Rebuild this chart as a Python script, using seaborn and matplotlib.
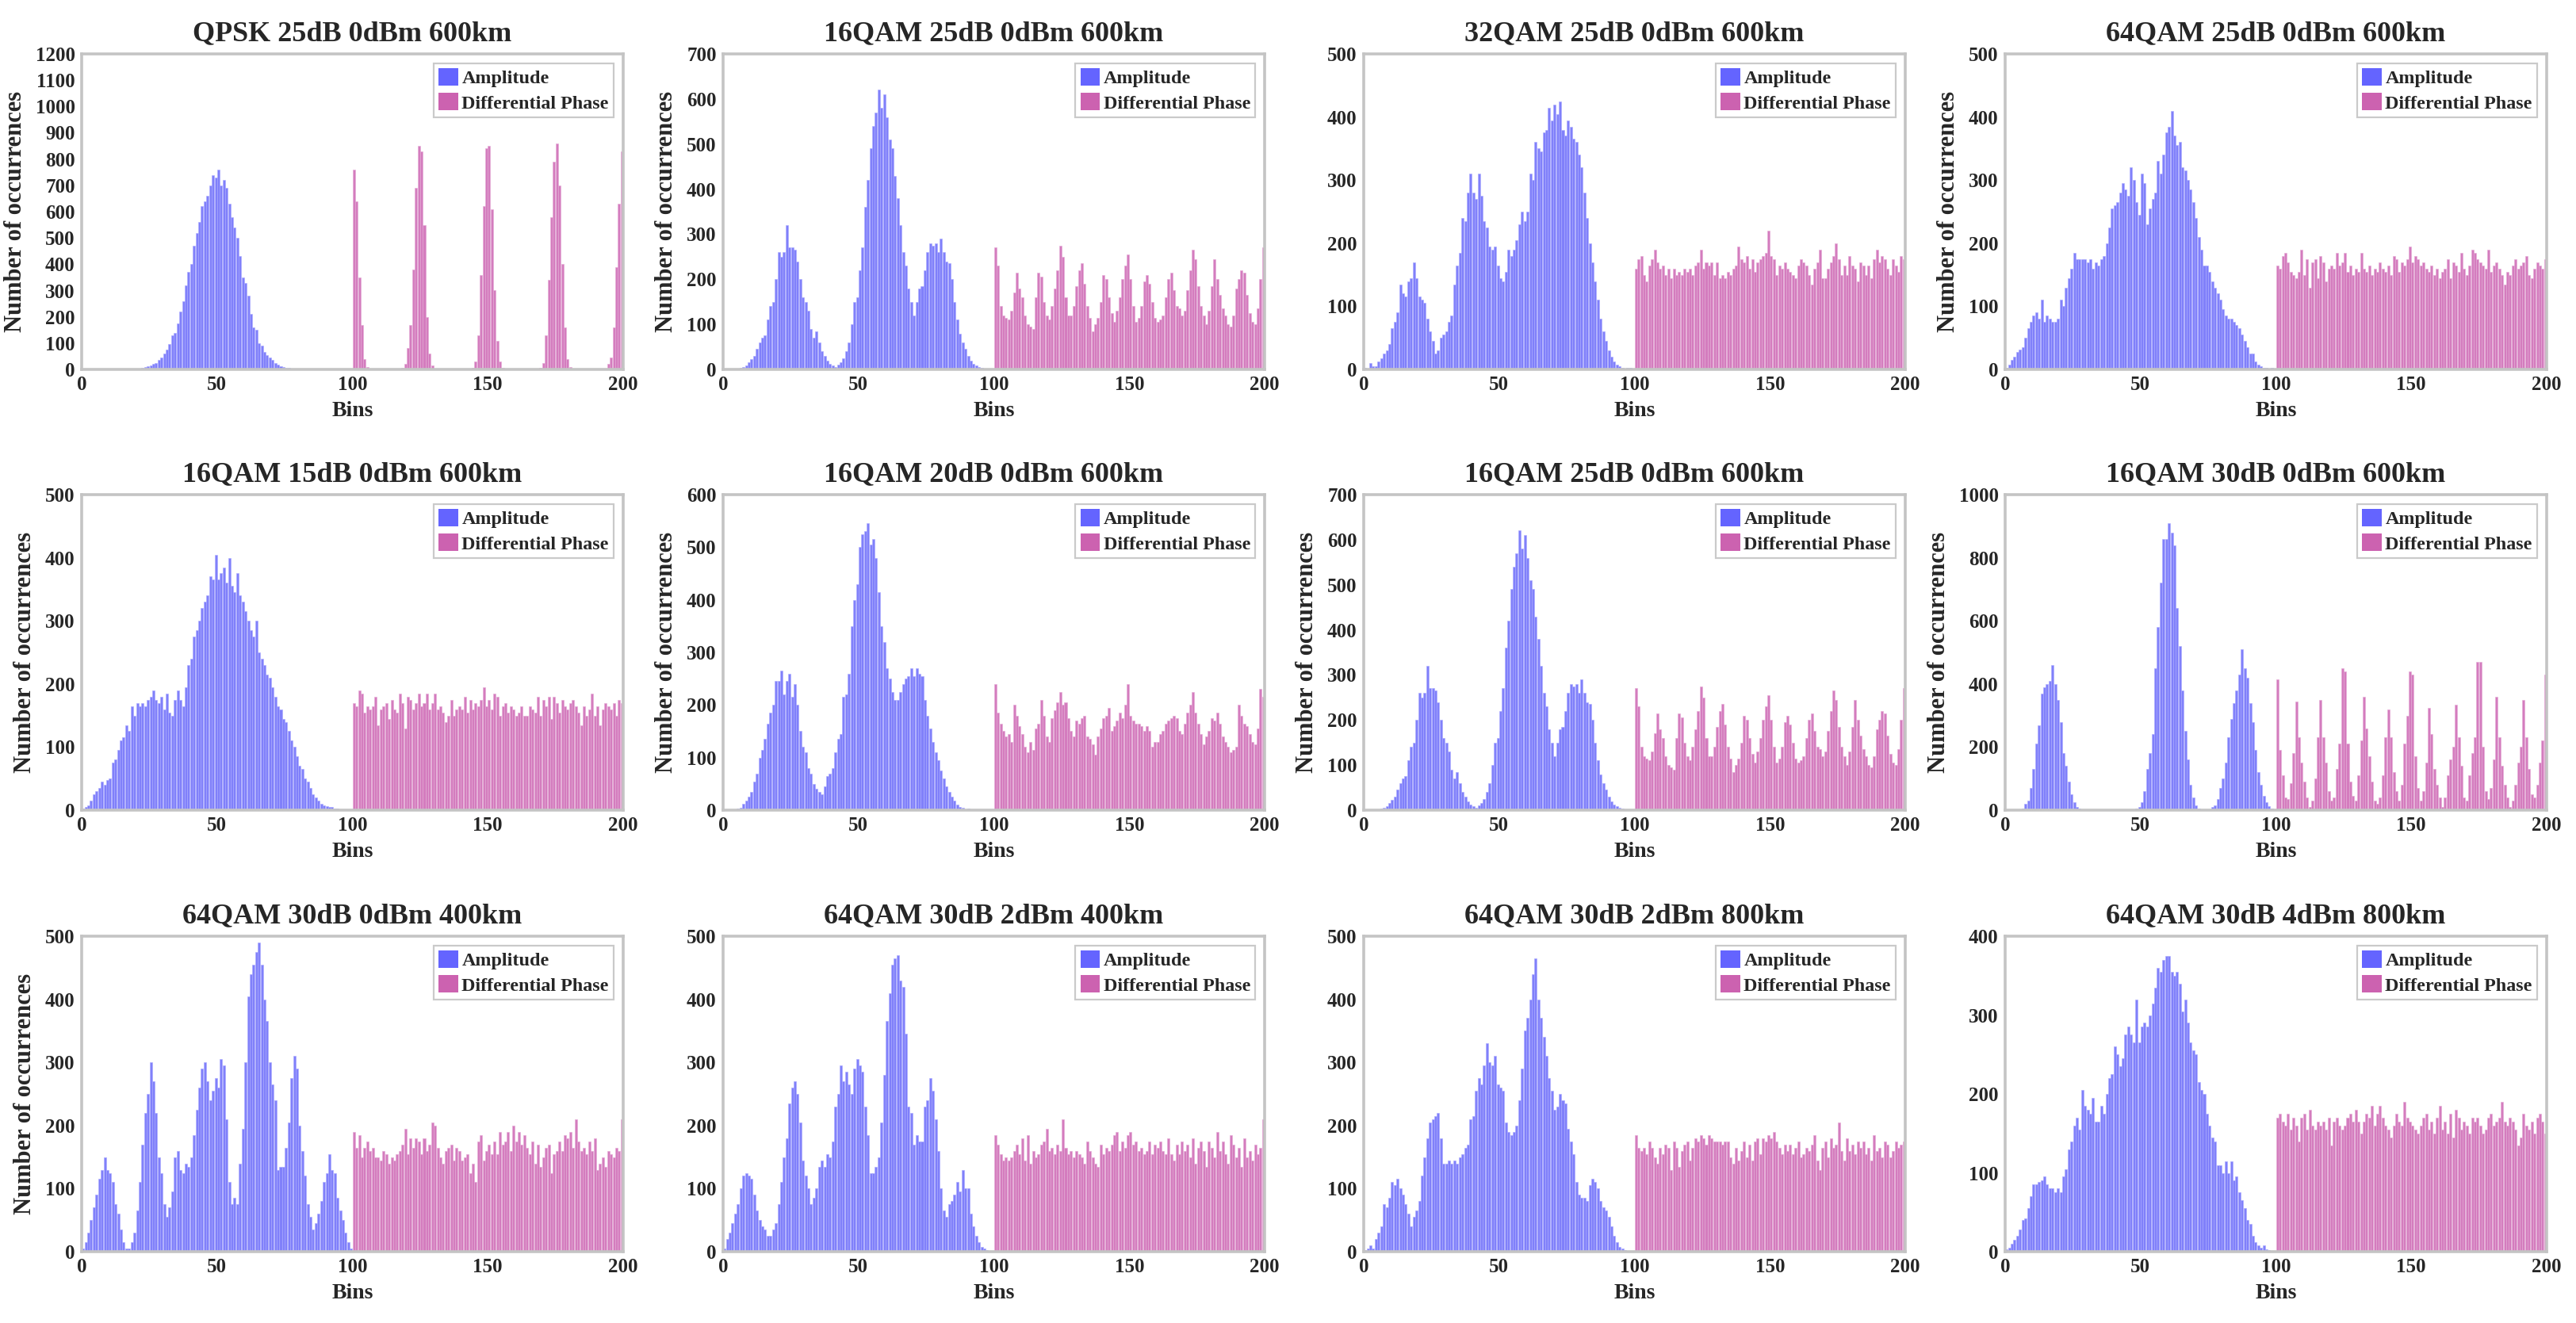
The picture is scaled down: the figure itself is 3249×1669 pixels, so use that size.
import matplotlib
matplotlib.use("Agg")
import matplotlib.pyplot as plt
from matplotlib.patches import Patch
import numpy as np
import seaborn as sns

# ---------------------------------------------------------------------------
# Histogram counts: 100 amplitude bins + 100 differential
# phase bins per panel (bins 1-100 amplitude, 101-200 phase)
# ---------------------------------------------------------------------------

amp_qpsk_25 = [
    0, 0, 0, 0, 0, 0, 0, 0, 0, 0,
    0, 0, 0, 0, 0, 0, 0, 0, 0, 0,
    0, 0, 5, 10, 12, 15, 20, 25, 35, 45,
    60, 75, 95, 130, 140, 175, 220, 260, 320, 370,
    400, 470, 520, 560, 620, 640, 660, 700, 740, 730,
    760, 700, 720, 690, 630, 580, 540, 500, 430, 350,
    330, 280, 210, 160, 150, 100, 90, 65, 55, 45,
    35, 25, 18, 12, 10, 7, 5, 3, 2, 1,
    0, 0, 0, 2, 0, 0, 0, 0, 0, 0,
    0, 0, 2, 0, 0, 0, 0, 0, 0, 0]
ph_qpsk_25 = [
    760, 640, 350, 170, 40, 10, 2, 0, 0, 0,
    0, 0, 0, 0, 0, 0, 0, 0, 5, 20,
    80, 170, 380, 690, 850, 830, 550, 200, 60, 15,
    3, 0, 0, 0, 0, 0, 0, 0, 0, 0,
    0, 0, 0, 0, 5, 30, 130, 360, 620, 840,
    850, 610, 300, 110, 30, 5, 0, 0, 0, 0,
    0, 0, 0, 0, 0, 0, 0, 0, 0, 5,
    25, 130, 340, 580, 790, 860, 700, 400, 160, 40,
    10, 0, 0, 0, 0, 0, 0, 0, 0, 0,
    0, 0, 0, 0, 20, 45, 160, 390, 630, 830]

amp_16qam_25 = [
    0, 0, 0, 0, 0, 2, 3, 5, 8, 15,
    22, 30, 45, 60, 70, 75, 110, 140, 150, 200,
    260, 250, 260, 320, 270, 270, 265, 240, 200, 160,
    150, 130, 90, 70, 85, 60, 40, 30, 20, 12,
    8, 5, 10, 15, 25, 40, 60, 100, 150, 160,
    220, 270, 360, 420, 490, 540, 570, 620, 580, 610,
    560, 510, 490, 430, 380, 320, 260, 230, 180, 150,
    120, 150, 180, 185, 220, 260, 280, 275, 280, 260,
    290, 260, 240, 235, 200, 150, 110, 80, 60, 45,
    30, 20, 12, 8, 5, 3, 2, 1, 0, 0]
ph_16qam_25 = [
    270, 230, 140, 120, 115, 110, 130, 170, 215, 180,
    160, 120, 100, 95, 90, 160, 215, 205, 150, 120,
    110, 140, 180, 220, 275, 250, 160, 120, 120, 140,
    185, 220, 235, 190, 140, 115, 85, 100, 115, 150,
    210, 200, 160, 125, 105, 130, 160, 200, 230, 255,
    200, 140, 105, 115, 140, 195, 210, 190, 150, 115,
    105, 110, 120, 160, 200, 215, 175, 140, 135, 120,
    130, 175, 220, 265, 245, 185, 140, 120, 100, 130,
    185, 245, 200, 165, 135, 120, 100, 95, 120, 180,
    200, 220, 215, 165, 125, 105, 100, 135, 200, 270]

amp_32qam_25 = [
    3, 0, 10, 5, 5, 12, 18, 25, 30, 40,
    65, 75, 90, 135, 120, 115, 140, 145, 170, 145,
    115, 110, 105, 80, 60, 45, 25, 30, 50, 55,
    60, 75, 85, 135, 165, 185, 240, 235, 280, 310,
    280, 270, 310, 275, 235, 225, 195, 190, 195, 165,
    145, 140, 155, 190, 180, 190, 205, 230, 250, 235,
    250, 310, 300, 360, 350, 345, 375, 380, 415, 395,
    420, 405, 425, 380, 370, 395, 385, 365, 360, 340,
    320, 280, 240, 200, 170, 140, 110, 80, 60, 45,
    30, 20, 12, 8, 5, 2, 0, 3, 3, 0]
ph_32qam_25 = [
    160, 175, 180, 150, 140, 165, 175, 190, 170, 160,
    165, 150, 160, 145, 160, 150, 155, 150, 160, 155,
    160, 150, 165, 170, 190, 160, 170, 165, 170, 150,
    170, 145, 150, 145, 155, 150, 160, 165, 195, 175,
    170, 180, 160, 175, 155, 170, 175, 180, 185, 220,
    180, 175, 150, 165, 160, 170, 160, 155, 150, 145,
    165, 175, 170, 165, 150, 135, 160, 170, 190, 145,
    145, 160, 170, 180, 200, 175, 150, 165, 150, 180,
    165, 160, 140, 170, 165, 150, 165, 145, 175, 190,
    170, 180, 175, 160, 150, 175, 165, 155, 180, 175]

amp_64qam_25 = [
    3, 8, 15, 20, 28, 32, 35, 50, 65, 75,
    85, 90, 80, 110, 75, 85, 80, 75, 75, 80,
    110, 100, 130, 145, 160, 185, 175, 175, 175, 175,
    170, 175, 160, 170, 165, 175, 180, 200, 225, 255,
    260, 265, 280, 295, 285, 275, 320, 300, 265, 245,
    310, 295, 230, 255, 270, 280, 330, 310, 340, 375,
    385, 410, 370, 355, 360, 320, 315, 300, 285, 265,
    240, 210, 190, 165, 165, 155, 140, 130, 120, 110,
    95, 85, 80, 80, 75, 70, 65, 55, 45, 35,
    25, 25, 12, 8, 5, 3, 2, 0, 2, 0]
ph_64qam_25 = [
    165, 160, 180, 185, 170, 155, 150, 145, 155, 190,
    150, 175, 130, 170, 175, 145, 180, 170, 140, 160,
    165, 160, 185, 165, 170, 185, 155, 165, 150, 160,
    155, 185, 160, 155, 165, 150, 160, 155, 170, 160,
    155, 165, 150, 180, 175, 155, 170, 165, 175, 195,
    170, 180, 175, 165, 170, 160, 155, 165, 150, 160,
    145, 155, 160, 175, 145, 170, 165, 155, 185, 160,
    150, 165, 190, 185, 175, 170, 165, 160, 190, 155,
    165, 170, 160, 150, 135, 155, 150, 165, 175, 160,
    165, 170, 180, 150, 145, 160, 170, 165, 160, 175]

amp_16qam_15 = [
    3, 5, 8, 15, 25, 30, 35, 45, 40, 48,
    50, 75, 80, 95, 110, 115, 135, 125, 165, 150,
    170, 165, 170, 165, 175, 180, 190, 175, 170, 180,
    160, 185, 155, 150, 175, 190, 175, 165, 195, 230,
    240, 275, 285, 300, 320, 330, 340, 370, 365, 405,
    365, 375, 385, 360, 400, 355, 345, 375, 340, 330,
    315, 300, 285, 275, 300, 250, 240, 230, 215, 210,
    195, 180, 165, 160, 145, 140, 125, 110, 100, 85,
    70, 65, 50, 45, 35, 25, 20, 15, 10, 8,
    6, 5, 5, 3, 2, 1, 0, 0, 0, 0]
ph_16qam_15 = [
    170, 165, 190, 185, 155, 165, 160, 165, 180, 135,
    160, 165, 170, 145, 175, 160, 155, 185, 170, 130,
    180, 175, 160, 170, 185, 165, 170, 185, 160, 170,
    185, 160, 165, 155, 140, 150, 175, 150, 160, 165,
    160, 180, 155, 175, 160, 170, 165, 175, 195, 165,
    175, 160, 185, 180, 150, 165, 170, 155, 165, 160,
    150, 155, 165, 150, 150, 165, 160, 155, 180, 150,
    175, 165, 180, 145, 180, 170, 155, 175, 165, 160,
    170, 175, 165, 155, 135, 165, 150, 160, 185, 150,
    165, 135, 160, 170, 165, 160, 170, 150, 175, 170]

amp_16qam_20 = [
    0, 0, 0, 0, 0, 3, 5, 12, 18, 25,
    35, 55, 70, 100, 115, 135, 165, 185, 200, 245,
    245, 265, 220, 245, 260, 215, 240, 200, 150, 120,
    110, 80, 70, 50, 40, 35, 30, 45, 65, 70,
    80, 110, 135, 145, 215, 220, 260, 350, 400, 430,
    500, 525, 530, 545, 505, 515, 480, 415, 350, 320,
    270, 250, 225, 210, 210, 225, 240, 250, 255, 270,
    255, 270, 260, 255, 210, 180, 155, 130, 110, 95,
    75, 60, 45, 35, 25, 18, 10, 6, 4, 2,
    3, 0, 0, 0, 0, 0, 0, 0, 0, 0]
ph_16qam_20 = [
    240, 185, 165, 150, 140, 145, 130, 200, 180, 160,
    145, 120, 110, 130, 115, 155, 165, 210, 180, 140,
    130, 175, 190, 205, 225, 200, 205, 175, 150, 140,
    170, 165, 175, 180, 140, 135, 125, 105, 140, 155,
    175, 180, 195, 150, 160, 170, 185, 175, 200, 240,
    180, 170, 165, 165, 160, 150, 160, 150, 120, 130,
    130, 145, 150, 165, 170, 175, 180, 175, 150, 145,
    165, 185, 200, 225, 185, 165, 145, 125, 140, 150,
    175, 170, 185, 165, 140, 130, 120, 110, 115, 120,
    200, 180, 165, 160, 145, 130, 125, 155, 230, 215]

amp_16qam_30 = [
    0, 0, 0, 0, 0, 0, 5, 20, 30, 70,
    130, 210, 270, 370, 390, 400, 410, 460, 400, 350,
    280, 180, 140, 90, 50, 25, 10, 5, 0, 0,
    0, 0, 0, 0, 0, 0, 0, 0, 0, 0,
    0, 0, 0, 0, 0, 0, 0, 0, 5, 10,
    25, 60, 130, 180, 240, 450, 580, 720, 860, 860,
    910, 880, 840, 640, 520, 380, 250, 160, 80, 40,
    15, 5, 0, 0, 0, 3, 10, 15, 35, 70,
    100, 150, 230, 290, 340, 380, 430, 510, 450, 420,
    340, 280, 190, 120, 80, 45, 25, 12, 5, 2]
ph_16qam_30 = [
    415, 190, 110, 40, 35, 85, 180, 345, 230, 150,
    90, 40, 10, 30, 100, 230, 350, 230, 150, 60,
    30, 40, 130, 210, 450, 440, 210, 90, 45, 30,
    110, 220, 360, 260, 170, 90, 30, 20, 40, 110,
    230, 320, 230, 120, 60, 30, 80, 210, 300, 440,
    430, 170, 70, 30, 60, 150, 325, 240, 130, 80,
    40, 10, 40, 110, 160, 200, 335, 230, 140, 40,
    30, 110, 180, 230, 470, 470, 200, 60, 35, 70,
    160, 360, 230, 140, 80, 40, 10, 30, 80, 150,
    200, 350, 230, 130, 50, 40, 80, 150, 220, 430]

amp_64qam_0dbm_400 = [
    5, 15, 30, 50, 70, 90, 115, 130, 150, 130,
    125, 110, 75, 60, 35, 15, 5, 5, 15, 30,
    65, 110, 170, 220, 250, 300, 270, 220, 150, 125,
    75, 55, 70, 95, 150, 160, 130, 125, 140, 135,
    150, 185, 225, 260, 290, 300, 270, 240, 255, 275,
    260, 305, 295, 210, 110, 75, 85, 75, 140, 195,
    300, 405, 440, 455, 475, 490, 455, 400, 365, 300,
    265, 240, 130, 135, 135, 165, 205, 275, 310, 290,
    200, 160, 120, 75, 55, 35, 45, 60, 80, 110,
    125, 155, 130, 125, 85, 65, 50, 30, 15, 5]
ph_64qam_0dbm_400 = [
    190, 165, 185, 150, 165, 175, 160, 165, 150, 150,
    145, 160, 155, 140, 150, 145, 155, 160, 170, 195,
    155, 180, 165, 180, 175, 155, 180, 160, 170, 205,
    200, 165, 150, 140, 160, 165, 170, 145, 165, 160,
    145, 150, 155, 125, 140, 110, 175, 185, 145, 160,
    170, 155, 175, 155, 190, 170, 175, 190, 160, 200,
    175, 190, 170, 185, 165, 155, 175, 140, 170, 135,
    150, 165, 170, 125, 155, 160, 175, 160, 185, 180,
    190, 165, 210, 175, 160, 165, 155, 175, 160, 180,
    130, 140, 150, 135, 160, 155, 150, 165, 160, 210]

amp_64qam_2dbm_400 = [
    5, 20, 30, 45, 60, 75, 100, 120, 125, 120,
    115, 90, 65, 50, 40, 35, 25, 25, 35, 45,
    75, 110, 150, 180, 235, 260, 270, 250, 205, 145,
    120, 100, 75, 85, 100, 135, 145, 135, 155, 150,
    175, 230, 250, 295, 270, 285, 265, 250, 290, 305,
    295, 285, 230, 185, 125, 125, 135, 150, 205, 280,
    365, 410, 455, 465, 470, 430, 420, 345, 230, 220,
    170, 185, 175, 175, 230, 240, 275, 255, 210, 160,
    100, 65, 55, 75, 80, 90, 110, 95, 130, 100,
    100, 60, 40, 25, 15, 8, 5, 2, 0, 0]
ph_64qam_2dbm_400 = [
    185, 170, 155, 145, 150, 145, 150, 160, 170, 155,
    180, 145, 185, 140, 160, 150, 155, 170, 175, 195,
    160, 165, 155, 170, 160, 210, 165, 155, 160, 150,
    160, 155, 150, 140, 175, 160, 150, 140, 135, 170,
    155, 165, 160, 170, 185, 190, 160, 175, 165, 185,
    190, 170, 175, 160, 165, 155, 160, 175, 155, 170,
    165, 175, 160, 155, 180, 155, 145, 170, 155, 175,
    160, 170, 150, 180, 140, 165, 175, 160, 135, 175,
    165, 150, 190, 160, 175, 155, 140, 185, 170, 150,
    165, 135, 180, 150, 160, 145, 170, 155, 165, 210]

amp_64qam_2dbm_800 = [
    3, 5, 10, 5, 20, 30, 40, 75, 70, 85,
    110, 105, 115, 100, 90, 75, 60, 40, 55, 65,
    80, 120, 150, 180, 205, 210, 215, 220, 180, 140,
    140, 145, 140, 145, 140, 150, 155, 165, 170, 210,
    215, 255, 275, 265, 295, 330, 300, 295, 310, 265,
    260, 255, 205, 190, 185, 190, 200, 240, 290, 350,
    370, 400, 440, 465, 400, 370, 340, 310, 275, 255,
    225, 230, 250, 240, 235, 195, 175, 155, 110, 90,
    85, 85, 80, 105, 115, 110, 100, 80, 70, 65,
    55, 40, 25, 15, 8, 5, 2, 0, 0, 0]
ph_64qam_2dbm_800 = [
    185, 165, 160, 165, 155, 175, 165, 150, 140, 165,
    155, 170, 165, 130, 175, 165, 135, 160, 170, 175,
    145, 165, 180, 175, 185, 180, 170, 185, 180, 175,
    175, 175, 170, 175, 175, 150, 140, 165, 145, 160,
    175, 150, 170, 145, 175, 180, 155, 180, 175, 185,
    180, 190, 175, 165, 155, 170, 160, 170, 155, 165,
    175, 150, 155, 165, 160, 170, 185, 145, 130, 165,
    175, 150, 180, 165, 170, 205, 160, 145, 180, 160,
    170, 155, 175, 165, 175, 155, 165, 145, 185, 160,
    165, 150, 175, 170, 150, 160, 175, 165, 170, 175]

amp_64qam_4dbm_800 = [
    3, 5, 10, 15, 20, 28, 40, 42, 55, 70,
    85, 85, 88, 90, 95, 85, 80, 80, 75, 80,
    75, 95, 105, 130, 140, 160, 170, 155, 205, 185,
    180, 175, 195, 165, 165, 185, 175, 200, 220, 225,
    260, 250, 235, 245, 275, 285, 275, 265, 320, 265,
    285, 290, 285, 300, 315, 335, 360, 355, 370, 375,
    375, 355, 350, 355, 340, 305, 320, 290, 265, 255,
    250, 215, 205, 200, 175, 160, 145, 140, 110, 110,
    100, 115, 100, 115, 90, 95, 75, 65, 55, 40,
    35, 20, 12, 8, 5, 8, 3, 2, 0, 0]
ph_64qam_4dbm_800 = [
    170, 175, 165, 160, 175, 155, 170, 160, 140, 170,
    175, 155, 180, 160, 155, 165, 160, 165, 155, 170,
    135, 165, 170, 160, 155, 160, 170, 175, 165, 180,
    165, 150, 165, 175, 170, 185, 160, 175, 185, 170,
    160, 155, 145, 160, 175, 165, 160, 190, 170, 165,
    160, 155, 150, 160, 170, 175, 155, 165, 150, 170,
    185, 155, 165, 150, 175, 145, 180, 170, 155, 165,
    160, 150, 170, 165, 170, 160, 150, 155, 170, 175,
    160, 165, 170, 190, 165, 160, 170, 165, 155, 135,
    145, 175, 160, 155, 165, 150, 170, 175, 165, 150]

# panel titles, y-axis limits / steps and which ones carry a y label
titles = [
    "QPSK 25dB 0dBm 600km", "16QAM 25dB 0dBm 600km",
    "32QAM 25dB 0dBm 600km", "64QAM 25dB 0dBm 600km",
    "16QAM 15dB 0dBm 600km", "16QAM 20dB 0dBm 600km",
    "16QAM 25dB 0dBm 600km", "16QAM 30dB 0dBm 600km",
    "64QAM 30dB 0dBm 400km", "64QAM 30dB 2dBm 400km",
    "64QAM 30dB 2dBm 800km", "64QAM 30dB 4dBm 800km",
]
amp_data = [amp_qpsk_25, amp_16qam_25, amp_32qam_25, amp_64qam_25,
            amp_16qam_15, amp_16qam_20, amp_16qam_25, amp_16qam_30,
            amp_64qam_0dbm_400, amp_64qam_2dbm_400, amp_64qam_2dbm_800, amp_64qam_4dbm_800]
phase_data = [ph_qpsk_25, ph_16qam_25, ph_32qam_25, ph_64qam_25,
              ph_16qam_15, ph_16qam_20, ph_16qam_25, ph_16qam_30,
              ph_64qam_0dbm_400, ph_64qam_2dbm_400, ph_64qam_2dbm_800, ph_64qam_4dbm_800]
y_max = [1200, 700, 500, 500, 500, 600, 700, 1000, 500, 500, 500, 400]
y_step = [100, 100, 100, 100, 100, 100, 100, 200, 100, 100, 100, 100]
has_ylabel = [True, True, False, True, True, True, True, True, True, False, False, False]

# bin centres: amplitude fills 0-100, differential phase fills 100-200
amp_bins = np.arange(1, 101) - 0.5
phase_bins = np.arange(101, 201) - 0.5

AMP_COLOR = "#8080FA"
PHASE_COLOR = "#D47CBE"
AMP_LEGEND = "#6464FF"
PHASE_LEGEND = "#CC62B0"

sns.set_style("white")
plt.rcParams["font.family"] = ["Liberation Serif", "DejaVu Serif"]
plt.rcParams["font.weight"] = "bold"

W, H = 3249, 1669
fig = plt.figure(figsize=(W / 200, H / 200), dpi=200)

col_left = [103, 912, 1720, 2529]
row_top = [68, 624, 1181]
ax_w, ax_h = 683, 398

for i in range(12):
    r, c = divmod(i, 4)
    ax = fig.add_axes([col_left[c] / W, 1 - (row_top[r] + ax_h) / H, ax_w / W, ax_h / H])

    sns.histplot(x=amp_bins, weights=amp_data[i], discrete=True, shrink=0.88,
                 color=AMP_COLOR, alpha=1, edgecolor="#A8A8FF", linewidth=0.2, ax=ax)
    sns.histplot(x=phase_bins, weights=phase_data[i], discrete=True, shrink=0.88,
                 color=PHASE_COLOR, alpha=1, edgecolor="#E3A8D4", linewidth=0.2, ax=ax)

    ax.set_xlim(0, 200)
    ax.set_ylim(0, y_max[i])
    ax.set_xticks([0, 50, 100, 150, 200])
    ax.set_yticks(np.arange(0, y_max[i] + 1, y_step[i]))
    ax.tick_params(length=0, labelsize=9, pad=3)
    for lab in ax.get_xticklabels() + ax.get_yticklabels():
        lab.set_fontweight("bold")

    for sp in ax.spines.values():
        sp.set_color("#C4C4C4")
        sp.set_linewidth(1.3)

    ax.set_title(titles[i], fontsize=13, fontweight="bold", pad=6)
    ax.set_xlabel("Bins", fontsize=10, fontweight="bold", labelpad=3)
    if has_ylabel[i]:
        ax.set_ylabel("Number of occurrences", fontsize=11, fontweight="bold", labelpad=4)
    else:
        ax.set_ylabel("")

    handles = [Patch(facecolor=AMP_LEGEND, edgecolor="none"),
               Patch(facecolor=PHASE_LEGEND, edgecolor="none")]
    leg = ax.legend(handles, ["Amplitude", "Differential Phase"], loc="upper right",
                    prop={"size": 8.7, "weight": "bold"}, frameon=True, fancybox=False,
                    handlelength=1.0, handleheight=1.0, handletextpad=0.2,
                    borderpad=0.25, labelspacing=0.3, borderaxespad=0.5)
    leg.get_frame().set_edgecolor("#BDBDBD")
    leg.get_frame().set_linewidth(0.8)

fig.savefig("out.png", dpi=200)
